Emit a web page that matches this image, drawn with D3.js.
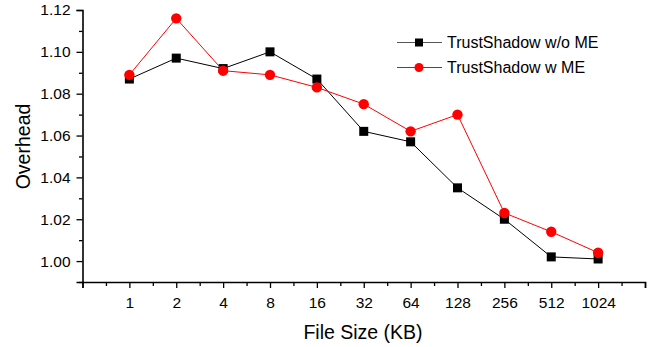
<!DOCTYPE html>
<html>
<head>
<meta charset="utf-8">
<script src="https://cdn.jsdelivr.net/npm/d3@7"></script>
<style>
  body { margin: 0; background: #fff; }
  text { font-family: Arial, "Liberation Sans", sans-serif; fill: #000; }
</style>
</head>
<body>
<svg id="chart" width="653" height="347"></svg>
<script>
// Data
const fileSizes = ["1", "2", "4", "8", "16", "32", "64", "128", "256", "512", "1024"];
const withoutME = [1.087, 1.097, 1.092, 1.100, 1.087, 1.062, 1.057, 1.035, 1.020, 1.002, 1.001];
const withME = [1.089, 1.116, 1.091, 1.089, 1.083, 1.075, 1.062, 1.070, 1.023, 1.014, 1.004];
const yTicks = [1.00, 1.02, 1.04, 1.06, 1.08, 1.10, 1.12];

const svg = d3.select("#chart");
const plotLeft = 82.5, plotRight = 645, plotTop = 10, plotBottom = 282;

// x: categorical positions, index 0 is the axis origin
const x = d3.scaleLinear().domain([0, 12]).range([plotLeft, plotRight]);
const y = d3.scaleLinear().domain([0.99, 1.12]).range([plotBottom, plotTop]);

const isMajorY = d => yTicks.some(t => Math.abs(t - d) < 1e-6);

// Y axis
const yAxis = d3.axisLeft(y)
    .tickValues(d3.range(0, 14).map(i => +(0.99 + i * 0.01).toFixed(2)))
    .tickFormat(d => isMajorY(d) ? d.toFixed(2) : "")
    .tickSize(6).tickPadding(4);
const gy = svg.append("g").attr("transform", `translate(${plotLeft},0)`).call(yAxis);
gy.select(".domain").attr("stroke-width", 1.6);
gy.selectAll(".tick line").attr("stroke-width", 1.3)
    .attr("x2", d => isMajorY(d) ? -6 : -3.5);
gy.selectAll(".tick text").style("font-size", "15.5px").attr("x", -12);

// X axis
const xAxis = d3.axisBottom(x)
    .tickValues(d3.range(0, 25).map(i => i / 2))
    .tickFormat(d => (Number.isInteger(d) && d >= 1 && d <= 11) ? fileSizes[d - 1] : "")
    .tickSize(6).tickPadding(9);
const gx = svg.append("g").attr("transform", `translate(0,${plotBottom})`).call(xAxis);
gx.select(".domain").attr("stroke-width", 1.6);
gx.selectAll(".tick line").attr("stroke-width", 1.3)
    .attr("y2", d => Number.isInteger(d) ? 6 : 4);
gx.selectAll(".tick text").style("font-size", "15.5px");

// Axis titles
svg.append("text")
    .attr("x", 363).attr("y", 339)
    .attr("text-anchor", "middle")
    .style("font-size", "19.5px")
    .text("File Size (KB)");

svg.append("text")
    .attr("transform", "translate(30,146.5) rotate(-90)")
    .attr("text-anchor", "middle")
    .style("font-size", "19.5px")
    .text("Overhead");

// Series
const line = d3.line().x((d, i) => x(i + 1)).y(d => y(d));

svg.append("path").datum(withoutME)
    .attr("fill", "none").attr("stroke", "#000").attr("stroke-width", 1)
    .attr("d", line);
svg.append("g").selectAll("rect").data(withoutME).join("rect")
    .attr("x", (d, i) => x(i + 1) - 4.5).attr("y", d => y(d) - 4.5)
    .attr("width", 9).attr("height", 9).attr("fill", "#000");

svg.append("path").datum(withME)
    .attr("fill", "none").attr("stroke", "#ff0000").attr("stroke-width", 1)
    .attr("d", line);
svg.append("g").selectAll("circle").data(withME).join("circle")
    .attr("cx", (d, i) => x(i + 1)).attr("cy", d => y(d))
    .attr("r", 5.2).attr("fill", "#ff0000");

// Legend
const legend = svg.append("g");
const items = [
  { label: "TrustShadow w/o ME", color: "#000", shape: "square", yPos: 42.5 },
  { label: "TrustShadow w ME", color: "#ff0000", shape: "circle", yPos: 67.5 }
];
items.forEach(it => {
  legend.append("line")
      .attr("x1", 397).attr("x2", 442).attr("y1", it.yPos).attr("y2", it.yPos)
      .attr("stroke", it.color === "#000" ? "#555" : it.color).attr("stroke-width", 1.2);
  if (it.shape === "square") {
    legend.append("rect").attr("x", 415).attr("y", it.yPos - 4)
        .attr("width", 8).attr("height", 8).attr("fill", it.color);
  } else {
    legend.append("circle").attr("cx", 419).attr("cy", it.yPos).attr("r", 4.5).attr("fill", it.color);
  }
  legend.append("text")
      .attr("x", 447).attr("y", it.yPos + 5.5)
      .style("font-size", "16px")
      .text(it.label);
});
</script>
</body>
</html>
